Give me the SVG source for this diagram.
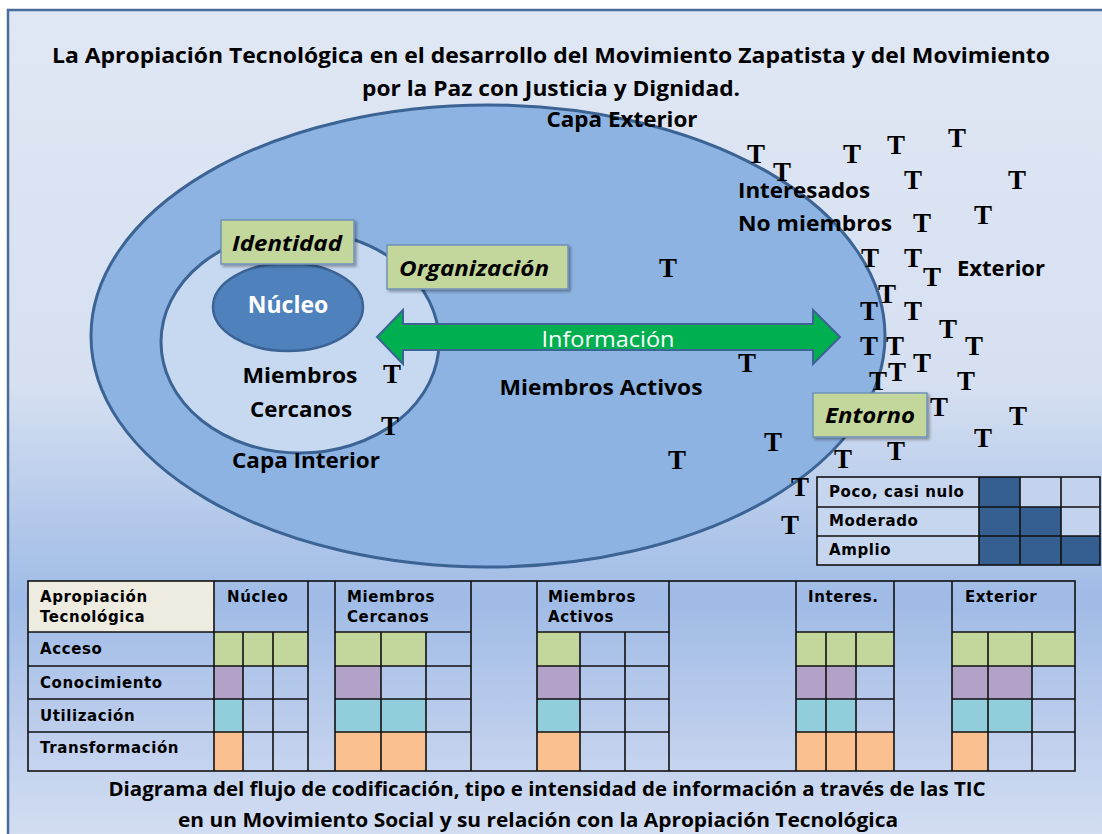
<svg xmlns="http://www.w3.org/2000/svg" width="1102" height="834" viewBox="0 0 1102 834">
<defs>
<linearGradient id="bg" x1="0" y1="0" x2="0" y2="1">
<stop offset="0" stop-color="#e0e7f4"/>
<stop offset="0.45" stop-color="#d6e0f1"/>
<stop offset="0.71" stop-color="#9fbbe6"/>
<stop offset="0.86" stop-color="#bccdec"/>
<stop offset="1" stop-color="#d3def2"/>
</linearGradient>
<filter id="sh" x="-10%" y="-10%" width="130%" height="140%">
<feDropShadow dx="2" dy="2" stdDeviation="1.5" flood-color="#000" flood-opacity="0.35"/>
</filter>
</defs>
<style>
.lbl{font-family:"Open Sans","Liberation Sans",sans-serif;font-weight:bold;fill:#000}
.box{fill:#c3d69b;stroke:#7191b8;stroke-width:1.5}
.bt{font-family:"Open Sans","Liberation Sans",sans-serif;font-weight:bold;font-style:italic;font-size:21px;text-anchor:middle;fill:#000}
.t{font-family:"Liberation Serif","DejaVu Serif",serif;font-weight:bold;font-size:27px;text-anchor:middle;fill:#000}
.tx{font-family:"DejaVu Sans","Liberation Sans",sans-serif;font-weight:bold;font-size:15px;letter-spacing:0.6px;fill:#000}
.g{fill:#c3d69b}.p{fill:#b2a2c7}.c{fill:#92cddc}.o{fill:#fac090}
.ln{stroke:#111;stroke-width:1.6;fill:none}
.dk{fill:#365f91}
</style>
<rect x="0" y="0" width="1102" height="834" fill="#ffffff"/>
<rect x="8" y="10" width="1100" height="830" fill="url(#bg)" stroke="#4a6c9b" stroke-width="2.5"/>

<g id="title">
<text class="lbl" x="551" y="63" font-size="21" text-anchor="middle" textLength="998" lengthAdjust="spacingAndGlyphs">La Apropiación Tecnológica en el desarrollo del Movimiento Zapatista y del Movimiento</text>
<text class="lbl" x="551" y="96" font-size="21" text-anchor="middle" textLength="378" lengthAdjust="spacingAndGlyphs">por la Paz con Justicia y Dignidad.</text>
</g>

<g id="capa-exterior">
<ellipse cx="488" cy="336" rx="397" ry="231" fill="#8db3e2" stroke="#3b6394" stroke-width="3"/>
</g>
<text class="lbl" x="622" y="127" font-size="21" text-anchor="middle" textLength="151" lengthAdjust="spacingAndGlyphs">Capa Exterior</text>

<g id="capa-interior">
<ellipse cx="300" cy="342" rx="139" ry="111" fill="#c6d9f1" stroke="#3b6394" stroke-width="3"/>
</g>

<g id="nucleo">
<ellipse cx="288" cy="307" rx="75" ry="44" fill="#4f81bd" stroke="#3b6394" stroke-width="2.5"/>
<text class="lbl" x="288" y="313" font-size="23" text-anchor="middle" style="fill:#fff">Núcleo</text>
</g>

<g id="labels">
<text class="lbl" x="300" y="383" font-size="21" text-anchor="middle" textLength="115" lengthAdjust="spacingAndGlyphs">Miembros</text>
<text class="lbl" x="301" y="417" font-size="21" text-anchor="middle" textLength="102" lengthAdjust="spacingAndGlyphs">Cercanos</text>
<text class="lbl" x="306" y="468" font-size="21" text-anchor="middle" textLength="148" lengthAdjust="spacingAndGlyphs">Capa Interior</text>
<text class="lbl" x="601" y="395" font-size="21" text-anchor="middle" textLength="203" lengthAdjust="spacingAndGlyphs">Miembros Activos</text>
<text class="lbl" x="738" y="198" font-size="21" textLength="132" lengthAdjust="spacingAndGlyphs">Interesados</text>
<text class="lbl" x="738" y="231" font-size="21" textLength="154" lengthAdjust="spacingAndGlyphs">No miembros</text>
<text class="lbl" x="957" y="276" font-size="21" textLength="88" lengthAdjust="spacingAndGlyphs">Exterior</text>
</g>

<g id="connectors">
<path d="M377,337 L403,310 L403,324 L813,324 L813,310 L840,337 L813,364 L813,350 L403,350 L403,364 Z" fill="#00b050" stroke="#3b6394" stroke-width="2"/>
<text x="608" y="347" font-family="'Open Sans','Liberation Sans',sans-serif" font-size="21" fill="#fff" text-anchor="middle" textLength="133" lengthAdjust="spacingAndGlyphs">Información</text>
</g>

<g id="identidad">
<rect x="221" y="220" width="133" height="44" class="box" filter="url(#sh)"/>
<text class="bt" x="287" y="251" textLength="110" lengthAdjust="spacingAndGlyphs">Identidad</text>
</g>
<g id="organizacion">
<rect x="387" y="245" width="181" height="44" class="box" filter="url(#sh)"/>
<text class="bt" x="474" y="276" textLength="150" lengthAdjust="spacingAndGlyphs">Organización</text>
</g>
<g id="entorno">
<rect x="813" y="393" width="114" height="44" class="box" filter="url(#sh)"/>
<text class="bt" x="870" y="423" textLength="90" lengthAdjust="spacingAndGlyphs">Entorno</text>
</g>

<g id="tics">
<text class="t" x="756" y="163">T</text>
<text class="t" x="782" y="181">T</text>
<text class="t" x="852" y="163">T</text>
<text class="t" x="896" y="154">T</text>
<text class="t" x="957" y="147">T</text>
<text class="t" x="913" y="189">T</text>
<text class="t" x="1017" y="189">T</text>
<text class="t" x="983" y="224">T</text>
<text class="t" x="922" y="232">T</text>
<text class="t" x="870" y="267">T</text>
<text class="t" x="913" y="267">T</text>
<text class="t" x="932" y="286">T</text>
<text class="t" x="887" y="303">T</text>
<text class="t" x="869" y="320">T</text>
<text class="t" x="913" y="320">T</text>
<text class="t" x="948" y="338">T</text>
<text class="t" x="869" y="355">T</text>
<text class="t" x="895" y="355">T</text>
<text class="t" x="974" y="355">T</text>
<text class="t" x="922" y="372">T</text>
<text class="t" x="897" y="381">T</text>
<text class="t" x="878" y="390">T</text>
<text class="t" x="966" y="390">T</text>
<text class="t" x="747" y="372">T</text>
<text class="t" x="939" y="416">T</text>
<text class="t" x="1018" y="425">T</text>
<text class="t" x="983" y="447">T</text>
<text class="t" x="773" y="451">T</text>
<text class="t" x="896" y="460">T</text>
<text class="t" x="843" y="468">T</text>
<text class="t" x="800" y="496">T</text>
<text class="t" x="790" y="534">T</text>
<text class="t" x="677" y="469">T</text>
<text class="t" x="668" y="277">T</text>
<text class="t" x="392" y="383">T</text>
<text class="t" x="390" y="435">T</text>
</g>

<g id="legend">
<rect x="817" y="477" width="162" height="88" fill="#c6d6ee"/>
<rect x="979" y="477" width="121" height="88" fill="#c3d3ed"/>
<rect class="dk" x="979" y="477" width="41" height="88"/>
<rect class="dk" x="1020" y="507" width="41" height="58"/>
<rect class="dk" x="1061" y="536" width="39" height="29"/>
<rect class="ln" x="817" y="477" width="283" height="88"/>
<path class="ln" d="M817,507 H1100 M817,536 H1100 M979,477 V565 M1020,477 V565 M1061,477 V565"/>
<text class="tx" x="829" y="497" letter-spacing="0.2">Poco, casi nulo</text>
<text class="tx" x="829" y="526" letter-spacing="0.2">Moderado</text>
<text class="tx" x="829" y="555" letter-spacing="0.2">Amplio</text>
</g>

<g id="table">
<rect x="28" y="581" width="186" height="51" fill="#eeece1"/>
<rect class="g" x="214" y="632" width="94" height="34"/>
<rect class="p" x="214" y="666" width="29" height="33"/>
<rect class="c" x="214" y="699" width="29" height="33"/>
<rect class="o" x="214" y="732" width="29" height="39"/>
<rect class="g" x="335" y="632" width="91" height="34"/>
<rect class="p" x="335" y="666" width="46" height="33"/>
<rect class="c" x="335" y="699" width="91" height="33"/>
<rect class="o" x="335" y="732" width="91" height="39"/>
<rect class="g" x="537" y="632" width="43" height="34"/>
<rect class="p" x="537" y="666" width="43" height="33"/>
<rect class="c" x="537" y="699" width="43" height="33"/>
<rect class="o" x="537" y="732" width="43" height="39"/>
<rect class="g" x="796" y="632" width="98" height="34"/>
<rect class="p" x="796" y="666" width="60" height="33"/>
<rect class="c" x="796" y="699" width="60" height="33"/>
<rect class="o" x="796" y="732" width="98" height="39"/>
<rect class="g" x="952" y="632" width="123" height="34"/>
<rect class="p" x="952" y="666" width="80" height="33"/>
<rect class="c" x="952" y="699" width="80" height="33"/>
<rect class="o" x="952" y="732" width="36" height="39"/>

<rect class="ln" x="28" y="581" width="1047" height="190"/>
<path class="ln" d="M28,632 H308 M28,666 H308 M28,699 H308 M28,732 H308
M335,632 H471 M335,666 H471 M335,699 H471 M335,732 H471
M537,632 H669 M537,666 H669 M537,699 H669 M537,732 H669
M796,632 H894 M796,666 H894 M796,699 H894 M796,732 H894
M952,632 H1075 M952,666 H1075 M952,699 H1075 M952,732 H1075
M214,581 V771 M308,581 V771 M335,581 V771 M471,581 V771 M537,581 V771 M669,581 V771 M796,581 V771 M894,581 V771 M952,581 V771
M243,632 V771 M273,632 V771 M381,632 V771 M426,632 V771 M580,632 V771 M625,632 V771 M826,632 V771 M856,632 V771 M988,632 V771 M1032,632 V771"/>
<text class="tx" x="40" y="602">Apropiación</text>
<text class="tx" x="40" y="622">Tecnológica</text>
<text class="tx" x="227" y="602">Núcleo</text>
<text class="tx" x="347" y="602">Miembros</text>
<text class="tx" x="347" y="622">Cercanos</text>
<text class="tx" x="548" y="602">Miembros</text>
<text class="tx" x="548" y="622">Activos</text>
<text class="tx" x="808" y="602">Interes.</text>
<text class="tx" x="965" y="602">Exterior</text>
<text class="tx" x="40" y="654">Acceso</text>
<text class="tx" x="40" y="688">Conocimiento</text>
<text class="tx" x="40" y="721">Utilización</text>
<text class="tx" x="40" y="753">Transformación</text>
</g>

<g id="caption">
<text class="lbl" x="547" y="796" font-size="20" text-anchor="middle" textLength="877" lengthAdjust="spacingAndGlyphs">Diagrama del flujo de codificación, tipo e intensidad de información a través de las TIC</text>
<text class="lbl" x="538" y="827" font-size="20" text-anchor="middle" textLength="720" lengthAdjust="spacingAndGlyphs">en un Movimiento Social y su relación con la Apropiación Tecnológica</text>
</g>
</svg>
